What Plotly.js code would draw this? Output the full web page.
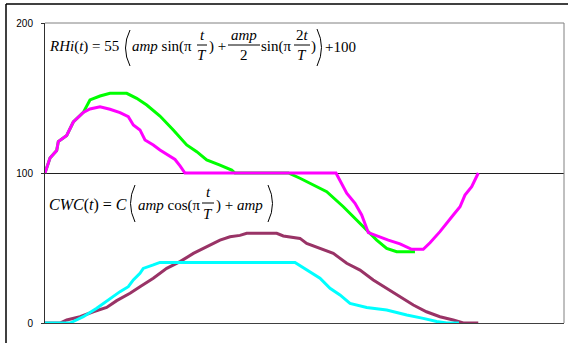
<!DOCTYPE html>
<html><head><meta charset="utf-8">
<script src="https://cdn.plot.ly/plotly-3.0.1.min.js"></script>
<style>html,body{margin:0;padding:0;background:#fff;}#c{width:568px;height:343px;}</style>
</head><body><div id="c"></div>
<script>
// ---- data ----
const rhiMeasX = [0,0.58,1.35,1.54,2.51,3.27,4.43,5.2,6.36,7.51,8.67,9.63,10.21,10.98,11.56,12.52,13.29,14.07,15.03,15.61,16.18,33.64,34.49,34.88,35.84,36.61,37.38,38.35,39.69,41.04,42.39,43.73,44.51,45.66,46.24,47.2,47.98,48.55,49.33,50.09];
const rhiMeasY = [100,110,115,121,125,134,140.4,142.7,144.2,142.5,140.2,137.5,132,128.7,122,118.7,115.3,112.7,109,104.7,100,100,91,86.5,79.8,72,60.2,58,55.3,52.7,49.1,49.1,53.5,60.9,65.3,72,77.5,85.3,90.9,100];
const rhiModelX = [0,0.58,1.35,1.54,2.51,3.27,4.43,5.2,6.36,7.51,9.45,10.6,11.76,13.29,14.83,16.38,17.54,18.69,20.23,21.58,21.97,28.13,29.48,31.41,32.57,34.49,36.42,37.19,38.35,39.5,40.66,42.77];
const rhiModelY = [100,110,115,121,125,134,140.4,148.7,151.3,153.1,153.1,149.8,145.3,138,128.7,118.7,114.2,108.7,105.3,102,100,100,96.5,90.9,87.5,77.5,66.4,61.5,55.3,49.8,47.5,47.5];
const cwcAX = [0,2.89,3.27,4.43,5.98,7.51,8.67,9.63,10.21,10.98,11.36,12.52,13.29,28.9,30.25,31.79,32.95,34.1,35.26,37.19,39.5,41.82,43.73,45.28,46.44,47.86];
const cwcAY = [0,0,1,4.2,9.8,16.4,20.9,24.2,28.7,33.1,36.4,38.7,40.4,40.4,35.3,29.8,23.1,18.7,13.1,10.4,8.7,5.3,3.1,1,0,0];
const cwcBX = [0,1.73,2.51,4.05,5.58,7.13,8.29,9.83,10.98,12.52,14.07,15.61,17.15,18.69,20.23,21.39,22.54,23.32,26.79,27.55,29.48,30.25,31.79,33.33,34.88,36.42,37.95,39.5,41.04,42.58,44.1,45.66,47.2,48.36,50.09];
const cwcBY = [0,0,2,4.2,7.5,10.4,14.9,19.8,24.2,29.8,36.4,40.9,46.4,50.9,55.3,57.5,58.4,59.8,59.8,58,56.4,53.1,49.8,46.4,39.8,35.3,28.7,23.1,17.5,12,7.5,4.2,2,0,0];
const yTickVals = [0,100,200];
const yTickText = ['0','100','200'];

// ---- layout helpers (pixel -> paper) ----
const L=45, R=4, T=23, B=20, W=568, H=343;
const PW=W-L-R, PH=H-T-B;
const px = v => (v-L)/PW;
const py = v => (H-B-v)/PH;

const serif = 'Liberation Serif, Times New Roman, serif';
function txt(s, x, y, size, anchor){
  return {text:s, xref:'paper', yref:'paper', x:px(x), y:py(y), xanchor:anchor||'left', yanchor:'middle',
    showarrow:false, font:{family:serif, size:size, color:'#000'}, borderpad:0};
}
function bar(x0,x1,y){
  return {type:'line', xref:'paper', yref:'paper', x0:px(x0), x1:px(x1), y0:py(y), y1:py(y), line:{color:'#000', width:1}};
}
function paren(xe, xm, y0, y1){
  const ym=(y0+y1)/2;
  return {type:'path', xref:'paper', yref:'paper',
    path:`M ${px(xe)} ${py(y0)} Q ${px(xm)} ${py(ym)} ${px(xe)} ${py(y1)}`,
    line:{color:'#000', width:1}};
}

const e1c = 47, e2c = 205;
const annotations = [
  txt('<i>RHi</i>(<i>t</i>) = 55', 48, e1c, 15),
  txt('<i>amp</i> sin(π', 131, e1c, 15),
  txt('<i>t</i>', 202, 35, 15, 'center'),
  txt('<i>T</i>', 202, 55, 15, 'center'),
  txt(') + ', 208, e1c, 15),
  txt('<i>amp</i>', 244, 35, 15, 'center'),
  txt('2', 244, 55, 15, 'center'),
  txt('sin(π', 260, e1c, 15),
  txt('2<i>t</i>', 302, 35, 15, 'center'),
  txt('<i>T</i>', 302, 55, 15, 'center'),
  txt(')', 310, e1c, 15),
  txt('+100', 324, e1c, 15),

  txt('<i>CWC</i>(<i>t</i>) = <i>C</i>', 48, e2c, 16),
  txt('<i>amp</i> cos(π', 137, e2c, 15),
  txt('<i>t</i>', 208, 192, 15, 'center'),
  txt('<i>T</i>', 208, 214, 15, 'center'),
  txt(') + <i>amp</i>', 215, e2c, 15)
];

const shapes = [
  // outer frame
  {type:'line', xref:'paper', yref:'paper', x0:px(6), x1:px(6), y0:py(4), y1:py(343), line:{color:'#000', width:1.5}},
  {type:'line', xref:'paper', yref:'paper', x0:px(6), x1:px(568), y0:py(4), y1:py(4), line:{color:'#000', width:1.5}},
  // plot area top/right border
  {type:'line', xref:'paper', yref:'paper', x0:0, x1:1, y0:1, y1:1, line:{color:'#808080', width:1}},
  {type:'line', xref:'paper', yref:'paper', x0:1, x1:1, y0:0, y1:1, line:{color:'#808080', width:1}},
  // fraction bars
  bar(197,207,45), bar(228,260,45), bar(294,310,45), bar(202,214,203),
  // big parentheses
  paren(130,121,30,66), paren(317,326,29,66),
  paren(135,126,185,222), paren(268,277,185,222)
];

const traces = [
  {x:rhiModelX, y:rhiModelY, type:'scatter', mode:'lines', line:{color:'#00FF00', width:3}, hoverinfo:'skip'},
  {x:rhiMeasX, y:rhiMeasY, type:'scatter', mode:'lines', line:{color:'#FF00FF', width:3}, hoverinfo:'skip'},
  {x:cwcBX, y:cwcBY, type:'scatter', mode:'lines', line:{color:'#993366', width:3}, hoverinfo:'skip'},
  {x:cwcAX, y:cwcAY, type:'scatter', mode:'lines', line:{color:'#00FFFF', width:3}, hoverinfo:'skip'}
];

const layout = {
  width:W, height:H, margin:{l:L, r:R, t:T, b:B, pad:0},
  paper_bgcolor:'#fff', plot_bgcolor:'#fff', showlegend:false,
  xaxis:{range:[0,60], showgrid:false, zeroline:false, showticklabels:false, ticks:'',
    showline:true, linecolor:'#404040', linewidth:1, fixedrange:true},
  yaxis:{range:[0,200], tickvals:yTickVals, ticktext:yTickText, showgrid:true, gridcolor:'#202020', gridwidth:1,
    zeroline:false, showline:true, linecolor:'#303030', linewidth:1, ticks:'outside', ticklen:3, tickcolor:'#303030',
    ticklabelstandoff:6, tickfont:{family:'Liberation Sans, Arial, sans-serif', size:10, color:'#000'}, fixedrange:true},
  annotations:annotations, shapes:shapes
};
Plotly.newPlot('c', traces, layout, {staticPlot:true, displayModeBar:false});
</script></body></html>
